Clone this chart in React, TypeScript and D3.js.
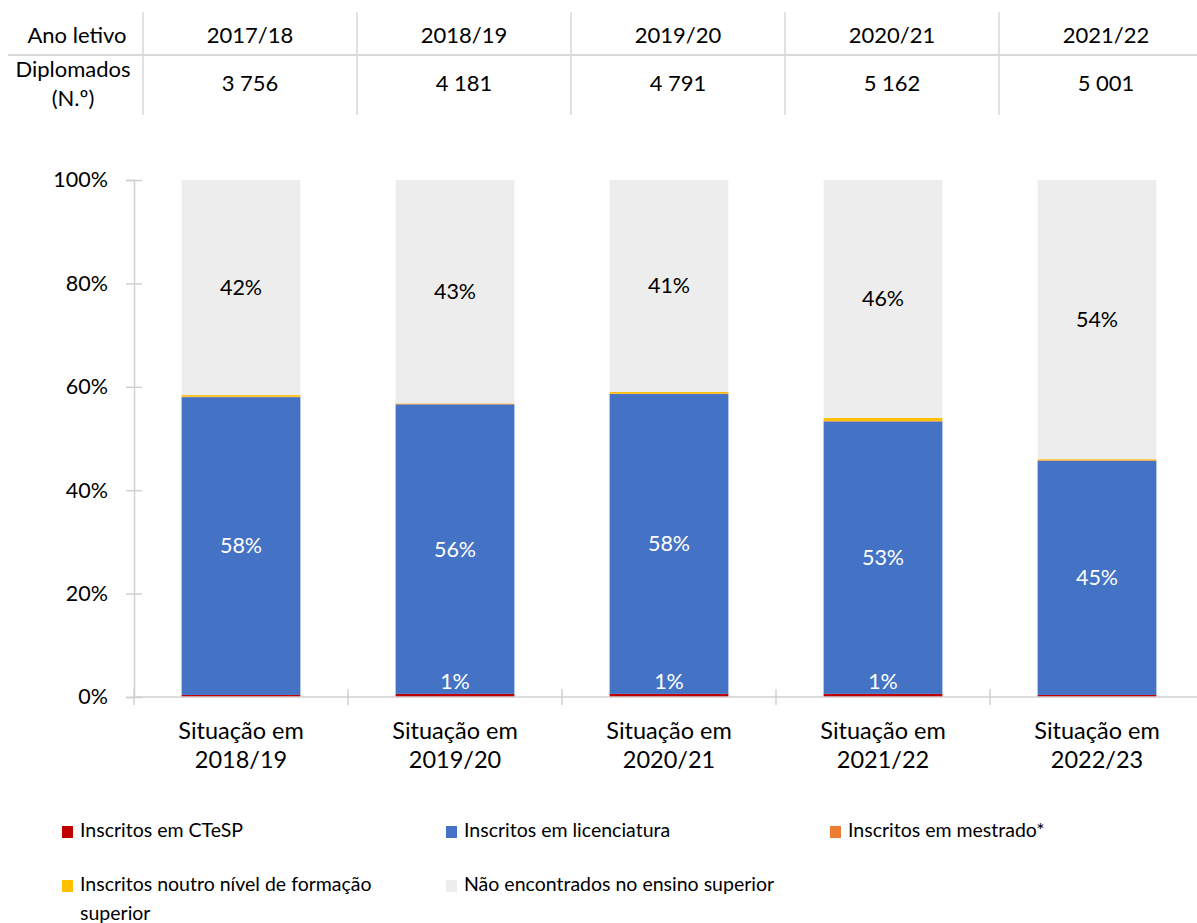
import React, { useEffect, useRef } from "react";
import * as d3 from "d3";

// table above the chart
const anos = ["2017/18", "2018/19", "2019/20", "2020/21", "2021/22"];
const diplomados = ["3 756", "4 181", "4 791", "5 162", "5 001"];

// chart categories
const situacoes = ["2018/19", "2019/20", "2020/21", "2021/22", "2022/23"];

// shares in %
const ctesp = [0.4, 0.6, 0.6, 0.6, 0.4];
const licenciatura = [57.6, 56.0, 58.0, 52.7, 45.3];
const mestrado = [0.1, 0.1, 0.1, 0.1, 0.1];
const outroNivel = [0.3, 0.1, 0.3, 0.6, 0.2];
const naoEncontrados = [41.6, 43.2, 41.0, 46.0, 54.0];

const yTicks = [0, 20, 40, 60, 80, 100];

const series = [
  { key: "ctesp", name: "Inscritos em CTeSP", color: "#C00000", values: ctesp, label: "#fff" },
  { key: "lic", name: "Inscritos em licenciatura", color: "#4472C4", values: licenciatura, label: "#fff" },
  { key: "mes", name: "Inscritos em mestrado*", color: "#ED7D31", values: mestrado, label: null },
  { key: "outro", name: "Inscritos noutro nível de formação|superior", color: "#FFC000", values: outroNivel, label: null },
  { key: "nao", name: "Não encontrados no ensino superior", color: "#EDEDED", values: naoEncontrados, label: "#000" },
];

const W = 1197;
const H = 923;
const FONT = "Lato, 'Open Sans', sans-serif";
const AXIS = "#d0d0d0";

export default function App() {
  const yAxisRef = useRef<SVGGElement>(null);

  const x = d3.scaleBand().domain(situacoes).range([134, 1204]).paddingInner(0.445).paddingOuter(0.2225);
  const y = d3.scaleLinear().domain([0, 100]).range([697, 180]);
  const tableX = d3.scaleBand().domain(anos).range([143, 1213]);

  const rows = situacoes.map((s, i) => {
    const r: any = { s };
    series.forEach((ser) => (r[ser.key] = ser.values[i]));
    return r;
  });
  const stacked = d3.stack().keys(series.map((s) => s.key))(rows);

  useEffect(() => {
    const g = d3.select(yAxisRef.current);
    g.selectAll("*").remove();
    g.call(
      d3.axisLeft(y).tickValues(yTicks).tickFormat((d) => d + "%").tickSize(8).tickPadding(18)
    );
    g.select(".domain").attr("stroke", AXIS).attr("stroke-width", 1.5);
    g.selectAll(".tick line").attr("x1", -8).attr("x2", 8).attr("stroke", AXIS).attr("stroke-width", 1.5);
    g.selectAll(".tick text").attr("font-size", 21.5).attr("font-family", FONT).attr("fill", "#000");
  }, []);

  const edges = [...situacoes.map((s) => x(s)! - x.step() * x.paddingInner() / 2), 1204];

  return (
    <svg width={W} height={H} style={{ position: "absolute", left: 0, top: 0 }} fontFamily={FONT}>
      <rect width={W} height={H} fill="#fff" />

      {/* table */}
      <line x1={8} x2={W} y1={55} y2={55} stroke="#d9d9d9" strokeWidth={2} />
      {anos.map((a) => (
        <line key={"sep" + a} x1={tableX(a)} x2={tableX(a)} y1={12} y2={115} stroke="#d9d9d9" strokeWidth={1.5} />
      ))}
      <text x={77} y={37} textAnchor="middle" dominantBaseline="middle" fontSize={22}>Ano letivo</text>
      <text x={73} y={71} textAnchor="middle" dominantBaseline="middle" fontSize={22}>Diplomados</text>
      <text x={73} y={100} textAnchor="middle" dominantBaseline="middle" fontSize={22}>(N.º)</text>
      {anos.map((a, i) => (
        <g key={a}>
          <text x={tableX(a)! + tableX.bandwidth() / 2} y={37} textAnchor="middle" dominantBaseline="middle" fontSize={22}>{a}</text>
          <text x={tableX(a)! + tableX.bandwidth() / 2} y={85} textAnchor="middle" dominantBaseline="middle" fontSize={22}>{diplomados[i]}</text>
        </g>
      ))}

      {/* bars */}
      {stacked.map((layer, li) => (
        <g key={layer.key} fill={series[li].color}>
          {layer.map((d, i) => (
            <rect key={i} x={x(situacoes[i])} width={x.bandwidth()} y={y(d[1])} height={y(d[0]) - y(d[1])} />
          ))}
        </g>
      ))}

      {/* data labels */}
      {stacked.map((layer, li) =>
        series[li].label
          ? layer.map((d, i) => {
              const v = series[li].values[i];
              if (Math.round(v) < 1) return null;
              const cy = li === 0 ? 684 : (y(d[0]) + y(d[1])) / 2 + 2;
              return (
                <text key={layer.key + i} x={x(situacoes[i])! + x.bandwidth() / 2} y={cy} textAnchor="middle"
                  dominantBaseline="middle" fontSize={21.5} fill={series[li].label!}>
                  {Math.round(v) + "%"}
                </text>
              );
            })
          : null
      )}

      {/* y axis */}
      <g ref={yAxisRef} transform="translate(134,0)" />

      {/* x axis */}
      <line x1={134} x2={W} y1={697} y2={697} stroke={AXIS} strokeWidth={1.5} />
      {edges.map((e, i) => (
        <line key={"xt" + i} x1={e} x2={e} y1={689} y2={705} stroke={AXIS} strokeWidth={1.5} />
      ))}
      {situacoes.map((s) => (
        <text key={"xl" + s} x={x(s)! + x.bandwidth() / 2} textAnchor="middle" fontSize={23.5}>
          <tspan x={x(s)! + x.bandwidth() / 2} y={739}>Situação em</tspan>
          <tspan x={x(s)! + x.bandwidth() / 2} y={768}>{s}</tspan>
        </text>
      ))}

      {/* legend */}
      {series.map((s, i) => {
        const col = i < 3 ? i : i - 3;
        const row = i < 3 ? 0 : 1;
        const lx = 62 + col * 384;
        const ly = 832 + row * 54;
        const parts = s.name.split("|");
        return (
          <g key={"lg" + s.key}>
            <rect x={lx} y={ly - 6} width={11} height={12} fill={s.color} />
            {parts.map((p, pi) => (
              <text key={pi} x={lx + 18} y={ly + pi * 29} dominantBaseline="middle" fontSize={19.5}>{p}</text>
            ))}
          </g>
        );
      })}
    </svg>
  );
}
